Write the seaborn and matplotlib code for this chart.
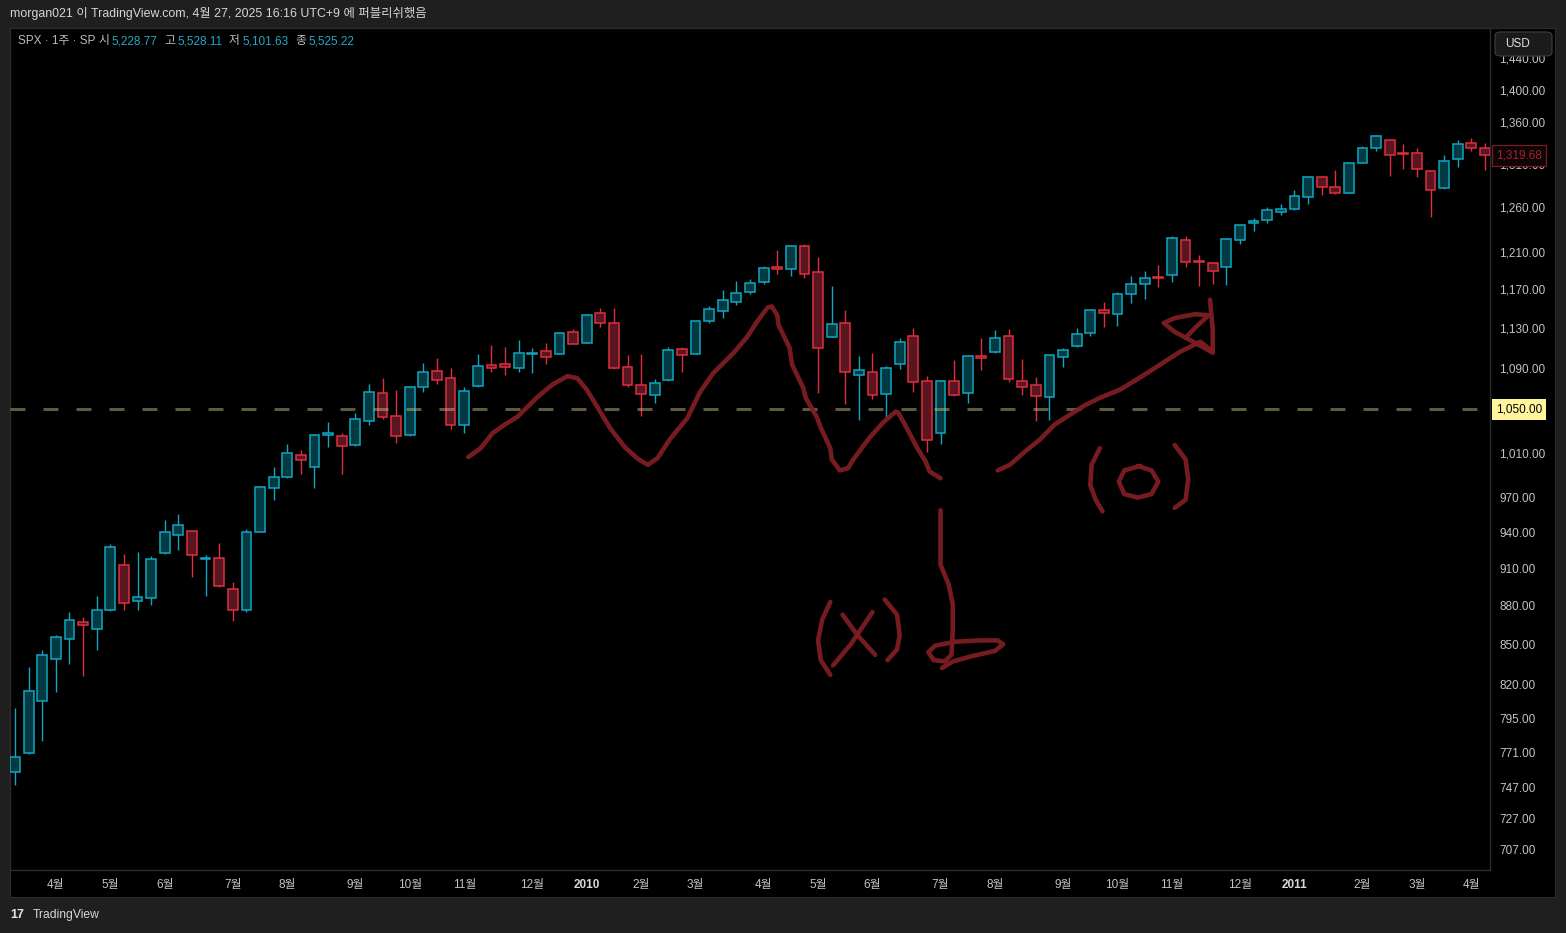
import numpy as np
import pandas as pd
import matplotlib
matplotlib.use('Agg')
import matplotlib.pyplot as plt
from matplotlib.ticker import NullLocator, NullFormatter
from matplotlib.patches import FancyBboxPatch
import seaborn as sns

# SPX weekly candles, week of 2009-03-16 .. 2011-04-11
opens = [758, 771, 808, 839, 854, 867, 862, 877, 913, 884, 886, 923, 938, 941, 918, 919, 893, 877, 940, 978,
         988, 1008, 997, 1026, 1025, 1017, 1039, 1066, 1044, 1026, 1071, 1087, 1080, 1035, 1072, 1093, 1094, 1090, 1104, 1107,
         1104, 1126, 1115, 1145, 1135, 1091, 1073, 1064, 1078, 1109, 1104, 1137, 1147, 1157, 1167, 1178, 1194, 1191, 1216, 1188,
         1121, 1135, 1083, 1086, 1065, 1094, 1122, 1077, 1028, 1077, 1066, 1102, 1106, 1122, 1077, 1073, 1062, 1101, 1112, 1125,
         1148, 1144, 1165, 1176, 1183, 1185, 1223, 1200, 1198, 1194, 1223, 1242, 1245, 1254, 1258, 1271, 1294, 1283, 1276, 1311,
         1329, 1338, 1323, 1323, 1301, 1281, 1316, 1334, 1329]
highs = [803, 833, 846, 857, 875, 871, 888, 930, 922, 924, 920, 951, 956, 941, 921, 931, 899, 943, 980, 997,
         1018, 1012, 1027, 1038, 1028, 1047, 1074, 1080, 1069, 1071, 1095, 1100, 1090, 1071, 1104, 1113, 1111, 1118, 1110, 1115,
         1126, 1129, 1144, 1150, 1150, 1103, 1104, 1079, 1111, 1111, 1138, 1152, 1169, 1179, 1181, 1195, 1212, 1217, 1219, 1204,
         1173, 1148, 1102, 1105, 1092, 1120, 1130, 1082, 1078, 1098, 1103, 1120, 1128, 1129, 1099, 1081, 1104, 1110, 1130, 1148,
         1157, 1167, 1184, 1189, 1196, 1227, 1227, 1207, 1199, 1225, 1241, 1247, 1260, 1263, 1279, 1296, 1296, 1303, 1311, 1331,
         1344, 1339, 1333, 1328, 1301, 1320, 1338, 1340, 1334]
lows = [749, 770, 779, 814, 835, 826, 846, 876, 877, 877, 881, 922, 925, 903, 888, 895, 868, 875, 940, 968,
        987, 991, 978, 1015, 991, 1016, 1035, 1041, 1019, 1025, 1067, 1074, 1032, 1028, 1071, 1086, 1083, 1086, 1085, 1094,
        1104, 1114, 1115, 1131, 1089, 1071, 1044, 1056, 1077, 1086, 1104, 1135, 1140, 1153, 1165, 1175, 1186, 1184, 1182, 1066,
        1121, 1055, 1040, 1060, 1042, 1089, 1067, 1011, 1018, 1063, 1056, 1088, 1105, 1076, 1064, 1039, 1040, 1091, 1111, 1122,
        1131, 1132, 1156, 1160, 1172, 1178, 1194, 1173, 1176, 1174, 1219, 1233, 1242, 1251, 1257, 1263, 1273, 1275, 1276, 1311,
        1325, 1295, 1304, 1294, 1249, 1280, 1306, 1325, 1303]
closes = [768, 815, 842, 856, 869, 865, 877, 928, 882, 887, 918, 940, 946, 921, 919, 896, 877, 940, 979, 988,
          1010, 1003, 1026, 1028, 1016, 1041, 1067, 1043, 1025, 1071, 1086, 1078, 1035, 1068, 1092, 1090, 1091, 1105, 1105, 1101,
          1125, 1114, 1143, 1135, 1090, 1073, 1065, 1075, 1108, 1103, 1137, 1149, 1159, 1166, 1177, 1193, 1191, 1216, 1186, 1110,
          1134, 1086, 1088, 1064, 1090, 1116, 1076, 1022, 1077, 1064, 1102, 1100, 1120, 1079, 1071, 1063, 1103, 1108, 1124, 1148,
          1145, 1165, 1175, 1182, 1182, 1225, 1199, 1199, 1189, 1224, 1240, 1244, 1257, 1258, 1272, 1294, 1283, 1276, 1311, 1329,
          1343, 1320, 1321, 1304, 1279, 1313, 1333, 1328, 1319.68]

month_pos = [3, 7, 11, 16, 20, 25, 29, 33, 38, 42, 46, 50, 55, 59, 63, 68, 72, 77, 81, 85, 90, 94, 99, 103, 107]
month_lab = ['4월', '5월', '6월', '7월', '8월', '9월', '10월', '11월', '12월', '2010', '2월', '3월',
             '4월', '5월', '6월', '7월', '8월', '9월', '10월', '11월', '12월', '2011', '2월', '3월', '4월']
price_ticks = [707, 727, 747, 771, 795, 820, 850, 880, 910, 940, 970, 1010, 1050,
               1090, 1130, 1170, 1210, 1260, 1310, 1360, 1400, 1440]
level = 1050

# hand drawn marks, (week index, price)
zig_x = [33.3, 34.2, 35.1, 36.0, 36.9, 38.4, 39.5, 40.6, 41.3, 42.0, 42.8, 43.7, 44.8, 45.8, 46.5, 47.2, 48.1,
         49.4, 50.3, 51.3, 52.8, 53.8, 54.5, 55.3, 55.6, 56.0, 56.1, 56.9, 57.1, 57.9, 58.1, 58.9, 59.2, 59.9,
         60.0, 60.6, 61.2, 61.6, 62.8, 63.8, 64.7, 64.9, 65.5, 66.3, 66.9, 67.2, 68.0]
zig_y = [1006, 1014, 1028, 1036, 1043, 1062, 1074, 1082, 1080, 1069, 1052, 1033, 1015, 1004, 999, 1005, 1022,
         1042, 1066, 1085, 1105, 1121, 1136, 1151, 1152, 1143, 1133, 1110, 1093, 1071, 1061, 1043, 1033, 1014,
         1004, 994, 996, 1004, 1024, 1038, 1048, 1047, 1033, 1014, 1002, 993, 987]
hook_x = [68.0, 68.0, 68.0, 68.6, 68.9, 68.9, 68.8, 68.3, 67.5, 67.1, 67.6, 69.1, 70.9, 72.2, 72.6, 72.0, 70.3, 68.9, 68.1]
hook_y = [959, 934, 913, 897, 881, 861, 842, 837, 838, 844, 849, 852, 853, 853, 850, 845, 841, 837, 832]
arrow_x = [72.2, 73.1, 74.2, 75.3, 76.4, 77.5, 78.6, 79.7, 81.2, 82.7, 84.1, 85.6, 87.1, 88.0]
arrow_y = [994, 999, 1011, 1022, 1036, 1045, 1054, 1061, 1069, 1081, 1093, 1106, 1116, 1106]
head_x = [87.8, 88.0, 88.0, 86.7, 85.2, 84.4, 85.2, 86.7, 87.7, 86.7, 86.0]
head_y = [1159, 1128, 1105, 1115, 1126, 1135, 1140, 1144, 1143, 1130, 1120]
x_marks = {
    'l': ([59.9, 59.3, 59.0, 59.2, 59.9], [883, 869, 853, 838, 827]),
    'a': ([60.1, 61.4, 63.0], [834, 850, 875]),
    'b': ([60.8, 61.9, 63.2], [873, 857, 842]),
    'r': ([63.9, 64.8, 65.0, 64.8, 64.1], [885, 873, 857, 846, 838]),
}
o_marks = {
    'l': ([79.7, 79.1, 79.0, 79.4, 79.9], [1014, 999, 981, 968, 958]),
    'o': ([82.5, 83.5, 84.0, 83.5, 82.5, 81.5, 81.1, 81.5, 82.7], [998, 994, 984, 973, 970, 973, 984, 994, 998]),
    'r': ([85.2, 86.0, 86.2, 86.0, 85.2], [1017, 1004, 986, 968, 961]),
}

UP_EDGE, UP_FILL = '#10a6c0', '#033a41'
DN_EDGE, DN_FILL = '#df2f3f', '#5a1620'
INK = '#7d1d22'
TXT = '#c3c3c3'

sns.set_style('dark', {'axes.facecolor': 'black'})
plt.rcParams['font.family'] = ['Liberation Sans', 'Noto Sans CJK KR', 'DejaVu Sans']

W, H = 1566, 933


def box(x0, y0, x1, y1):
    return [x0 / W, 1 - y1 / H, (x1 - x0) / W, (y1 - y0) / H]


fig = plt.figure(figsize=(W / 100, H / 100), dpi=100, facecolor='#1f1f1f')

bg = fig.add_axes(box(10, 28, 1555, 897))
bg.set_facecolor('black')
bg.set_xticks([])
bg.set_yticks([])
for s in bg.spines.values():
    s.set_color('#2c2c2c')

ax = fig.add_axes(box(10, 28, 1490, 870))
ax.set_facecolor('black')

df = pd.DataFrame({'o': opens, 'h': highs, 'l': lows, 'c': closes})
df['x'] = np.arange(len(df))
up = df['c'] >= df['o']
edge = np.where(up, UP_EDGE, DN_EDGE)
fill = np.where(up, UP_FILL, DN_FILL)

ax.vlines(df['x'], df['l'], df['h'], colors=edge, lw=1.0, zorder=2)
bottoms = np.minimum(df['o'], df['c'])
heights = np.maximum((df['c'] - df['o']).abs(), 0.8)
ax.bar(df['x'], heights, bottom=bottoms, width=0.72, color=fill, edgecolor=edge, linewidth=1.1, zorder=3)

ax.axhline(level, color='#bdb47c', alpha=0.5, lw=2.2, linestyle=(0, (4.9, 5.9)), zorder=4)

strokes = [(zig_x, zig_y), (hook_x, hook_y), (arrow_x, arrow_y), (head_x, head_y)]
strokes += list(x_marks.values()) + list(o_marks.values())
for sx, sy in strokes:
    sns.lineplot(x=sx, y=sy, sort=False, estimator=None, ax=ax, color=INK, lw=3.3, alpha=0.95,
                 solid_capstyle='round', solid_joinstyle='round', zorder=5)

ax.set_yscale('log')
ax.set_xlim(-0.37, 108.37)
ax.set_ylim(693.8, 1480)
ax.set_xlabel('')
ax.set_ylabel('')

ax.yaxis.tick_right()
ax.set_yticks(price_ticks)
ax.set_yticklabels([f'{p:,.2f}' for p in price_ticks])
ax.yaxis.set_minor_locator(NullLocator())
ax.yaxis.set_minor_formatter(NullFormatter())
ax.tick_params(axis='y', length=0, pad=6.5, labelsize=8.5, labelcolor=TXT)

ax.set_xticks(month_pos)
ax.set_xticklabels(month_lab)
ax.tick_params(axis='x', length=0, pad=6.2, labelsize=8.5, labelcolor=TXT)
for t in ax.get_xticklabels():
    if t.get_text() in ('2010', '2011'):
        t.set_fontweight('bold')
        t.set_color('#d8d8d8')

for s in ax.spines.values():
    s.set_color('#2c2c2c')
    s.set_linewidth(1.0)
ax.grid(False)

# price labels on the scale
ax.text(1.0 + 6 / 1480, level, '1,050.00', transform=ax.get_yaxis_transform(), ha='left', va='center',
        fontsize=8.5, color='black', zorder=10, clip_on=False,
        bbox=dict(boxstyle='square,pad=0.35', fc='#fff59d', ec='none'))
ax.text(1.0 + 6 / 1480, closes[-1], f'{closes[-1]:,.2f}', transform=ax.get_yaxis_transform(), ha='left',
        va='center', fontsize=8.5, color='#a3222d', zorder=10, clip_on=False,
        bbox=dict(boxstyle='square,pad=0.35', fc='#0d0405', ec='#7a1d24', lw=0.9))

# currency button
fig.patches.append(FancyBboxPatch((1495 / W, 1 - 56 / H), 57 / W, 24 / H, boxstyle='round,pad=0,rounding_size=0.004',
                                  transform=fig.transFigure, fc='#1b1b1b', ec='#3a3a3a', lw=0.9, zorder=20))
fig.text(1505 / W, 1 - 44 / H, 'USD', fontsize=8.5, color='#e0e0e0', va='center', zorder=21)

# header and legend
fig.text(10 / W, 1 - 14 / H, 'morgan021 이 TradingView.com, 4월 27, 2025 16:16 UTC+9 에 퍼블리쉬했음',
         fontsize=8.9, color='#d6d6d6', va='center')
legend = [(18, 'SPX · 1주 · SP', '#bdbdbd'), (98, '시', '#bdbdbd'), (111, '5,228.77', '#22a9c7'),
          (164, '고', '#bdbdbd'), (177, '5,528.11', '#22a9c7'), (229, '저', '#bdbdbd'),
          (242, '5,101.63', '#22a9c7'), (295, '종', '#bdbdbd'), (308, '5,525.22', '#22a9c7')]
for lx, s, c in legend:
    fig.text(lx / W, 1 - 41 / H, s, fontsize=8.5, color=c, va='center')

fig.text(10 / W, 1 - 915 / H, '17', fontsize=9, fontweight='bold', color='#e6e6e6', va='center')
fig.text(33 / W, 1 - 915 / H, 'TradingView', fontsize=8.7, color='#d6d6d6', va='center')

fig.savefig('out.png', dpi=100, facecolor=fig.get_facecolor())
